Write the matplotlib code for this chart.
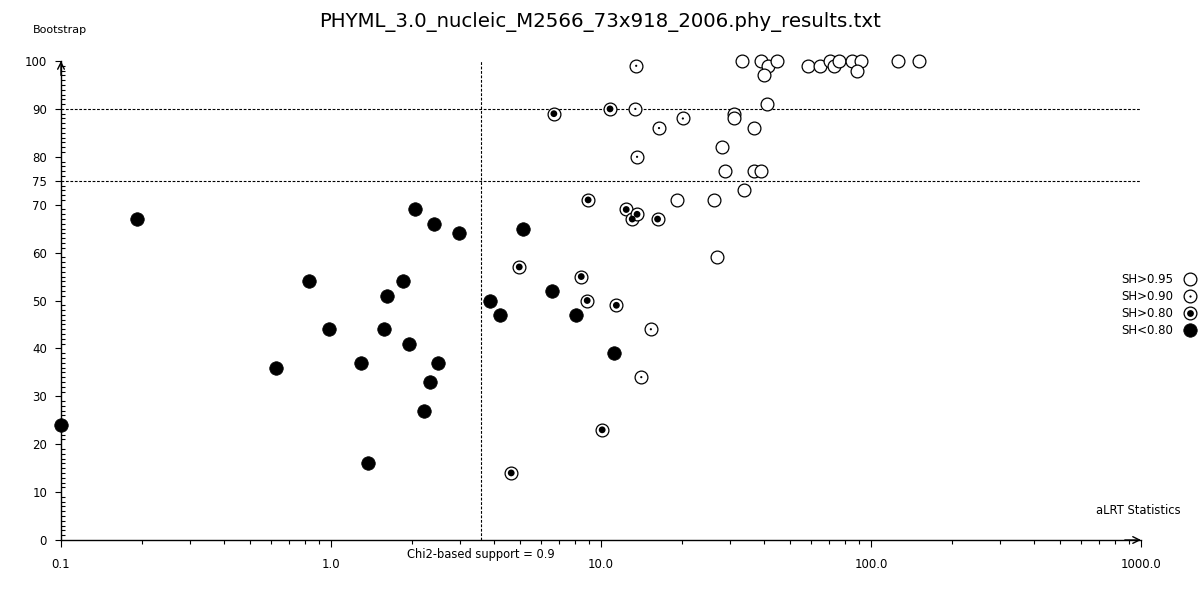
import matplotlib
matplotlib.use("Agg")
import matplotlib.pyplot as plt
from matplotlib.lines import Line2D
from matplotlib.legend_handler import HandlerTuple
from matplotlib.ticker import FixedLocator, FuncFormatter, NullFormatter

title = "PHYML_3.0_nucleic_M2566_73x918_2006.phy_results.txt"

# SH > 0.95 (open circles)
sh95_alrt = [19.2, 26.3, 26.8, 33.9, 28.1, 28.7, 36.9, 39.1, 37.0, 31.1, 31.1, 41.3,
             33.3, 39.3, 41.5, 40.3, 44.8, 58.5, 64.8, 70.2, 72.8, 75.8, 85.2, 92.0,
             88.9, 126.0, 151.0]
sh95_boot = [71, 71, 59, 73, 82, 77, 77, 77, 86, 89, 88, 91,
             100, 100, 99, 97, 100, 99, 99, 100, 99, 100, 100, 100,
             98, 100, 100]

# SH > 0.90 (circle with small dot)
sh90_alrt = [13.5, 13.4, 13.6, 16.4, 20.1, 15.3, 14.1]
sh90_boot = [99, 90, 80, 86, 88, 44, 34]

# SH > 0.80 (circle with black centre)
sh80_alrt = [4.65, 4.98, 6.69, 8.45, 8.89, 8.96, 10.1, 10.8, 11.4, 12.4, 13.05, 16.2, 13.6]
sh80_boot = [14, 57, 89, 55, 50, 71, 23, 90, 49, 69, 67, 67, 68]

# SH < 0.80 (filled)
shlo_alrt = [0.1, 0.191, 0.627, 0.83, 0.985, 1.29, 1.37, 1.57, 1.61, 1.85, 1.95, 2.04,
             2.21, 2.33, 2.41, 2.49, 2.97, 3.89, 4.23, 5.16, 6.60, 8.09, 11.15]
shlo_boot = [24, 67, 36, 54, 44, 37, 16, 44, 51, 54, 41, 69,
             27, 33, 66, 37, 64, 50, 47, 65, 52, 47, 39]

chi2_threshold = 3.59
boot_lines = [90, 75]
x_ticks = [0.1, 1.0, 10.0, 100.0, 1000.0]
y_ticks = [0, 10, 20, 30, 40, 50, 60, 70, 75, 80, 90, 100]
legend_labels = ["SH>0.95", "SH>0.90", "SH>0.80", "SH<0.80"]

plt.rcParams['font.family'] = ['DejaVu Sans']
fig = plt.figure(figsize=(12, 6), dpi=100)
ax = fig.add_axes([61/1200, 60/600, 1080/1200, 479/600])
ax.set_xscale('log')
ax.set_xlim(0.1, 1000)
ax.set_ylim(0, 100)

for s in ['top', 'right']:
    ax.spines[s].set_visible(False)
for s in ['left', 'bottom']:
    ax.spines[s].set_linewidth(1.0)
    ax.spines[s].set_color('black')

# arrows at axis ends
ax.annotate('', xy=(1.0, 0), xytext=(0.985, 0), xycoords='axes fraction',
            arrowprops=dict(arrowstyle='->', lw=1.0, color='black', shrinkA=0, shrinkB=0,
                            mutation_scale=12))
ax.annotate('', xy=(0, 1.0), xytext=(0, 0.97), xycoords='axes fraction',
            arrowprops=dict(arrowstyle='->', lw=1.0, color='black', shrinkA=0, shrinkB=0,
                            mutation_scale=12))

# reference lines
for b in boot_lines:
    ax.axhline(b, color='black', lw=0.8, ls=(0, (2.5, 1.5)), zorder=1)
ax.axvline(chi2_threshold, color='black', lw=0.8, ls=(0, (2.5, 1.5)), zorder=1)

ring_s = 85
ew = 0.9
ax.scatter(sh95_alrt, sh95_boot, s=ring_s, facecolors='white', edgecolors='black',
           linewidths=ew, zorder=3, clip_on=False)
ax.scatter(sh90_alrt, sh90_boot, s=ring_s, facecolors='white', edgecolors='black',
           linewidths=ew, zorder=3, clip_on=False)
ax.scatter(sh90_alrt, sh90_boot, s=2.5, facecolors='black', edgecolors='none',
           zorder=4, clip_on=False)
ax.scatter(sh80_alrt, sh80_boot, s=ring_s, facecolors='white', edgecolors='black',
           linewidths=ew, zorder=3, clip_on=False)
ax.scatter(sh80_alrt, sh80_boot, s=24, facecolors='black', edgecolors='none',
           zorder=4, clip_on=False)
ax.scatter(shlo_alrt, shlo_boot, s=95, facecolors='black', edgecolors='black',
           linewidths=0.5, zorder=3, clip_on=False)

# ticks
ax.xaxis.set_major_locator(FixedLocator(x_ticks))
ax.xaxis.set_major_formatter(FuncFormatter(lambda v, p: f"{v:.1f}"))
ax.xaxis.set_minor_formatter(NullFormatter())
ax.yaxis.set_major_locator(FixedLocator(y_ticks))
ax.yaxis.set_minor_locator(FixedLocator(list(range(0, 101))))
ax.yaxis.set_major_formatter(FuncFormatter(lambda v, p: f"{int(v)}"))
ax.tick_params(axis='x', which='major', direction='out', length=5, width=0.8, pad=8,
               labelsize=8.5)
ax.tick_params(axis='x', which='minor', direction='out', length=3, width=0.8)
ax.tick_params(axis='y', which='major', direction='out', length=4, width=0.8, pad=6,
               labelsize=8.5)
ax.tick_params(axis='y', which='minor', direction='in', length=3, width=0.8)

# texts
fig.text(0.5, 1 - 22/600, title, ha='center', va='center', fontsize=14.2)
fig.text(33/1200, 1 - 30/600, "Bootstrap", ha='left', va='center', fontsize=8)
fig.text(1181/1200, 1 - 511/600, "aLRT Statistics", ha='right', va='center', fontsize=8.3)
ax.text(chi2_threshold, -0.031, "Chi2-based support = 0.9", transform=ax.get_xaxis_transform(),
        ha='center', va='center', fontsize=8.3)

# legend
ms = 9.2
l95 = Line2D([], [], ls='none', marker='o', ms=ms, mfc='white', mec='black', mew=ew)
l90a = Line2D([], [], ls='none', marker='o', ms=ms, mfc='white', mec='black', mew=ew)
l90b = Line2D([], [], ls='none', marker='o', ms=1.6, mfc='black', mec='black', mew=0)
l80a = Line2D([], [], ls='none', marker='o', ms=ms, mfc='white', mec='black', mew=ew)
l80b = Line2D([], [], ls='none', marker='o', ms=4.9, mfc='black', mec='black', mew=0)
llo = Line2D([], [], ls='none', marker='o', ms=ms + 0.5, mfc='black', mec='black', mew=0.5)
fig.legend([l95, (l90a, l90b), (l80a, l80b), llo], legend_labels,
           handler_map={tuple: HandlerTuple(ndivide=1)},
           loc='center right', bbox_to_anchor=(0.997, 1 - 305/600), frameon=False,
           markerfirst=False, fontsize=8.5, labelspacing=0.35, handlelength=1.0,
           handletextpad=1.0, borderpad=0, borderaxespad=0)

fig.savefig("out.png", dpi=100, facecolor='white')
